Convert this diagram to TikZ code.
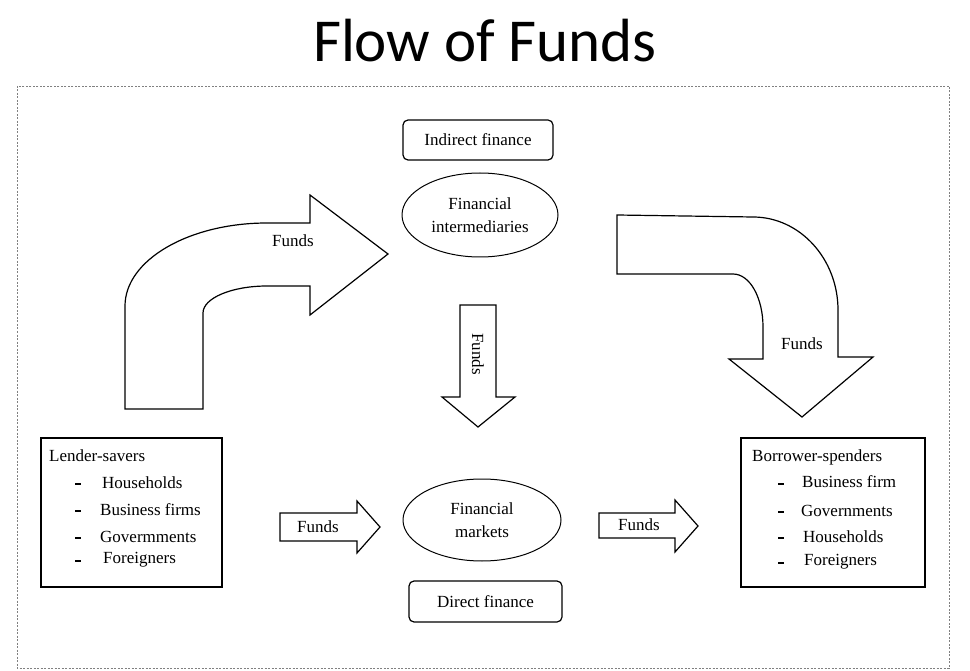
\documentclass[tikz,border=0pt]{standalone}
\usepackage{fontspec}
\setmainfont{Liberation Serif}
\newfontfamily\titlefont{Carlito}
\usetikzlibrary{shapes.geometric}
\begin{document}
\begin{tikzpicture}[x=1pt,y=-1pt,
  lbl/.style={font=\fontsize{17}{23}\selectfont, inner sep=0pt, align=center},
  item/.style={font=\fontsize{17}{20}\selectfont, inner sep=0pt, anchor=west},
  bul/.style={fill=black, inner sep=0pt, minimum width=6pt, minimum height=2.6pt},
  thinbul/.style={fill=black, inner sep=0pt, minimum width=6pt, minimum height=1.4pt},
  blk/.style={draw=black, line width=1.2pt, fill=white, line join=miter},
  sqbox/.style={draw, line width=1.4pt, inner sep=0pt},
  rbox/.style={draw, line width=1.2pt, rounded corners=5pt, inner sep=0pt},
  ell/.style={draw, ellipse, line width=1pt, inner sep=0pt}]
\useasboundingbox (0,0) rectangle (970,671);
\fill[white] (0,0) rectangle (970,671);
\node[font=\titlefont\fontsize{61}{70}\selectfont, anchor=base, inner sep=0pt] (title) at (485,62) {Flow of Funds};
\draw[gray, line width=0.8pt, dash pattern=on 2pt off 1.5pt] (17,86) rectangle (949,668);

% curved arrow left
\draw[blk] (125,409) -- (125,306) .. controls (125,260) and (189,223) .. (267,223) -- (310,223) -- (310,195) -- (388,254) -- (310,315) -- (310,286) -- (267,286) .. controls (232,286) and (203,298) .. (203,313) -- (203,409) -- cycle;
\node[lbl] (f1) at (293,241) {Funds};

% curved arrow right
\draw[blk] (617,215) -- (753,217) .. controls (800,217) and (838,259) .. (838,310) -- (838,357) -- (873,357) -- (802,417) -- (729,359) -- (763,359) -- (763,327) .. controls (763,298) and (750,274) .. (733,274) -- (617,274) -- cycle;
\node[lbl] (f2) at (802,344) {Funds};

% down arrow
\draw[blk] (460,305) -- (496,305) -- (496,397) -- (515,397) -- (478,427) -- (442,397) -- (460,397) -- cycle;
\node[lbl, rotate=-90] (f3) at (478,354) {Funds};

% bottom arrows
\draw[blk] (280,513) -- (357,513) -- (357,501) -- (380,527) -- (357,553) -- (357,541) -- (280,541) -- cycle;
\node[lbl] (f4) at (318,527) {Funds};
\draw[blk] (599,513) -- (675,513) -- (675,500) -- (698,526) -- (675,552) -- (675,538) -- (599,538) -- cycle;
\node[lbl] (f5) at (639,525) {Funds};

% central nodes
\node[rbox, minimum width=150pt, minimum height=40pt] (ind) at (478,140) {};
\node[lbl] (indt) at (ind) {Indirect finance};
\node[ell, minimum width=156pt, minimum height=84pt] (fi) at (480,215) {};
\node[lbl] (fit) at (fi) {Financial\\intermediaries};
\node[ell, minimum width=158pt, minimum height=82pt] (fm) at (482,520) {};
\node[lbl] (fmt) at (fm) {Financial\\markets};
\node[rbox, minimum width=153pt, minimum height=41pt] (dir) at (485.5,601.5) {};
\node[lbl] (dirt) at (dir) {Direct finance};

% lender box
\node[sqbox, minimum width=181pt, minimum height=149pt] (lend) at (131.5,512.5) {};
\node[item] (l0) at (49,456) {Lender-savers};
\node[bul] (lb1) at (78,484) {};
\node[item] (l1) at (102,483) {Households};
\node[bul] (lb2) at (78,511) {};
\node[item] (l2) at (100,510) {Business firms};
\node[thinbul] (lb3) at (78,538) {};
\node[item] (l3) at (100,537) {Govermments};
\node[bul] (lb4) at (78,561) {};
\node[item] (l4) at (103,560) {Foreigners};

% borrower box
\node[sqbox, minimum width=184pt, minimum height=149pt] (borr) at (833,512.5) {};
\node[item] (b0) at (752,457) {Borrower-spenders};
\node[bul] (bb1) at (781,484) {};
\node[item] (b1) at (802,482) {Business firm};
\node[bul] (bb2) at (781,512) {};
\node[item] (b2) at (801,511) {Governments};
\node[bul] (bb3) at (781,538) {};
\node[item] (b3) at (803,537) {Households};
\node[bul] (bb4) at (781,563) {};
\node[item] (b4) at (804,562) {Foreigners};
\end{tikzpicture}
\end{document}
